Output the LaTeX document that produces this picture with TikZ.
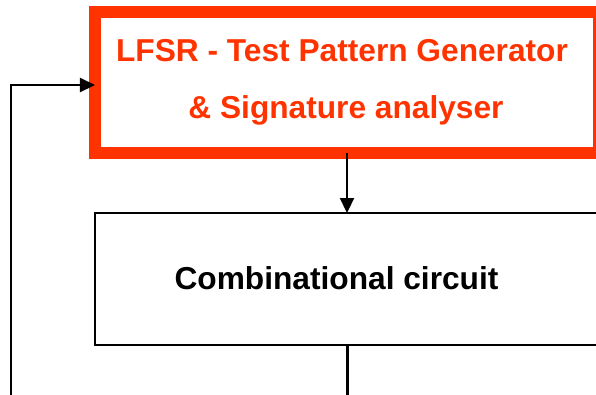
\documentclass[tikz,border=0pt]{standalone}
\usepackage{fontspec}
\setmainfont{Liberation Sans}
\usetikzlibrary{arrows.meta}

\definecolor{lfsrred}{RGB}{255,51,0}

\tikzset{
  redbox/.style={draw=lfsrred,line width=12bp,inner sep=0pt,outer sep=0pt},
  blockbox/.style={draw=black,line width=2.2bp,inner sep=0pt,outer sep=0pt},
  lbl/.style={font=\fontsize{31.8}{38}\selectfont\bfseries,inner sep=0pt,anchor=base},
  wire/.style={line width=2.2bp},
  flow/.style={wire,-{Triangle[length=15bp,width=14bp]}}
}

\begin{document}
\begin{tikzpicture}[x=1bp,y=-1bp]
\useasboundingbox (0,0) rectangle (596,394);

\node[redbox,minimum width=504bp,minimum height=141bp] (lfsr) at (347,82.5) {};
\node[blockbox,minimum width=505bp,minimum height=132bp] (cc) at (347.5,279) {};

\node[lbl,text=lfsrred] (lfsrTop) at (342,61) {LFSR - Test Pattern Generator};
\node[lbl,text=lfsrred] (lfsrBot) at (346,118) {\& Signature analyser};
\node[lbl] (ccText) at (336.5,289) {Combinational circuit};

\coordinate (fbBot) at (11,400);
\coordinate (ccOut) at (347,400);

\draw[flow] (lfsr.south) -- (lfsr.south |- cc.north);
\draw[wire] (cc.south) -- (cc.south |- ccOut);
\draw[flow] (fbBot) |- ([yshift=-2.5bp]lfsr.west);
\end{tikzpicture}
\end{document}
